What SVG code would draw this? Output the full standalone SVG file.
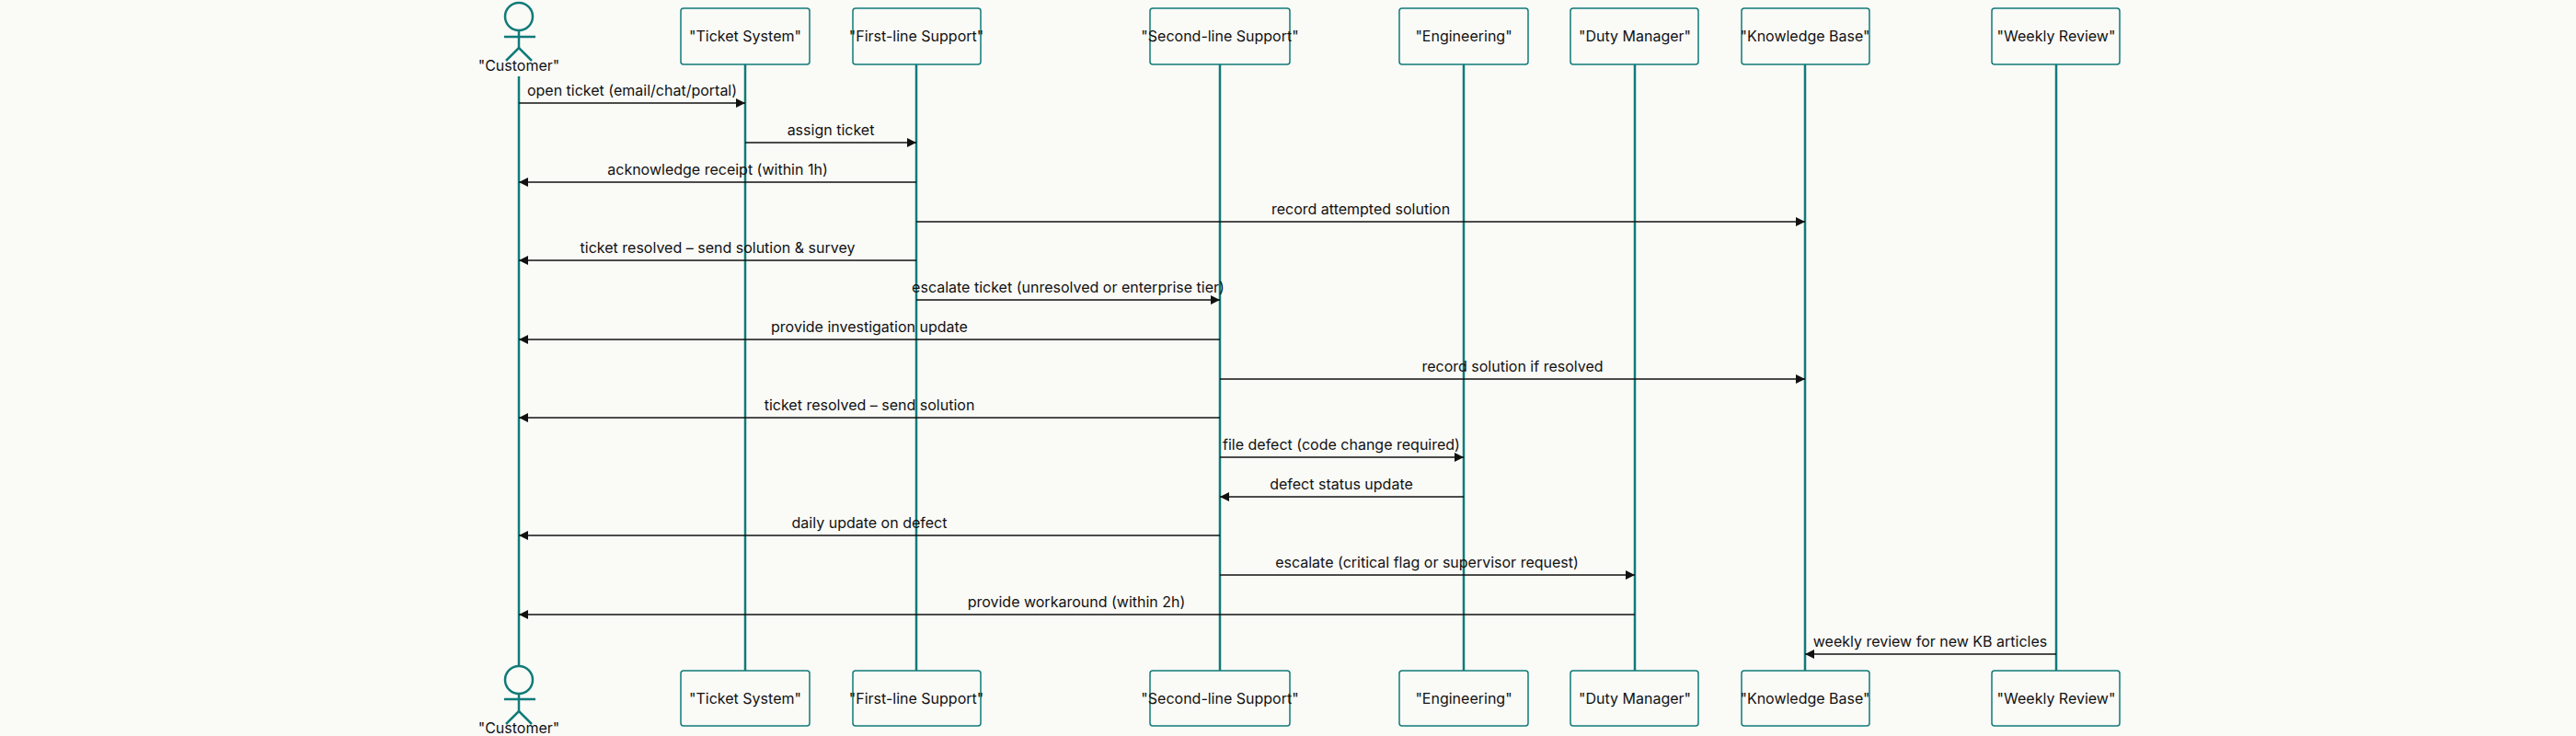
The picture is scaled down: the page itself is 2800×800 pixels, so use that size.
<svg xmlns="http://www.w3.org/2000/svg" width="2800" height="800" viewBox="0 0 2800 800">
<style>
.bg{fill:#fafaf7}
.box{fill:#fafaf7;stroke:#0f7b78;stroke-width:1.5}
.life{stroke:#0f7b78;stroke-width:2.5}
.act{fill:none;stroke:#0f7b78;stroke-width:2.5}
.t{font-family:Inter,"Liberation Sans",sans-serif;font-size:16px;fill:#111;text-anchor:middle}
.m{stroke:#111;stroke-width:1.6;fill:none;marker-end:url(#ah)}
</style>
<defs>
<marker id="ah" viewBox="0 0 10 10" refX="10" refY="5" markerWidth="10" markerHeight="10" markerUnits="userSpaceOnUse" orient="auto"><path d="M0,0L10,5L0,10z" fill="#111"/></marker>
</defs>
<rect class="bg" width="2800" height="800"/>
<g id="lifelines">
<line class="life" x1="564" y1="83" x2="564" y2="724"/>
<line class="life" x1="810" y1="70" x2="810" y2="729"/>
<line class="life" x1="996" y1="70" x2="996" y2="729"/>
<line class="life" x1="1326" y1="70" x2="1326" y2="729"/>
<line class="life" x1="1591" y1="70" x2="1591" y2="729"/>
<line class="life" x1="1777" y1="70" x2="1777" y2="729"/>
<line class="life" x1="1962" y1="70" x2="1962" y2="729"/>
<line class="life" x1="2235" y1="70" x2="2235" y2="729"/>
</g>
<g id="customer">
<circle class="act" cx="564" cy="18" r="15"/><line class="act" x1="564" y1="33" x2="564" y2="52"/><line class="act" x1="548" y1="40" x2="582" y2="40"/><path class="act" d="M550,66L564,52L578,66"/>
<text class="t" x="564" y="77">"Customer"</text>
<circle class="act" cx="564" cy="739" r="15"/><line class="act" x1="564" y1="754" x2="564" y2="773"/><line class="act" x1="548" y1="760" x2="582" y2="760"/><path class="act" d="M550,787L564,773L578,787"/>
<text class="t" x="564" y="797">"Customer"</text>
</g>
<g id="ticket"><rect class="box" x="740" y="9" width="140" height="61" rx="3"/><text class="t" x="810" y="45">"Ticket System"</text><rect class="box" x="740" y="729" width="140" height="60" rx="3"/><text class="t" x="810" y="765">"Ticket System"</text></g>
<g id="first"><rect class="box" x="927" y="9" width="139" height="61" rx="3"/><text class="t" x="996" y="45">"First-line Support"</text><rect class="box" x="927" y="729" width="139" height="60" rx="3"/><text class="t" x="996" y="765">"First-line Support"</text></g>
<g id="second"><rect class="box" x="1250" y="9" width="152" height="61" rx="3"/><text class="t" x="1326" y="45">"Second-line Support"</text><rect class="box" x="1250" y="729" width="152" height="60" rx="3"/><text class="t" x="1326" y="765">"Second-line Support"</text></g>
<g id="engineering"><rect class="box" x="1521" y="9" width="140" height="61" rx="3"/><text class="t" x="1591" y="45">"Engineering"</text><rect class="box" x="1521" y="729" width="140" height="60" rx="3"/><text class="t" x="1591" y="765">"Engineering"</text></g>
<g id="duty"><rect class="box" x="1707" y="9" width="139" height="61" rx="3"/><text class="t" x="1777" y="45">"Duty Manager"</text><rect class="box" x="1707" y="729" width="139" height="60" rx="3"/><text class="t" x="1777" y="765">"Duty Manager"</text></g>
<g id="kb"><rect class="box" x="1893" y="9" width="139" height="61" rx="3"/><text class="t" x="1962" y="45">"Knowledge Base"</text><rect class="box" x="1893" y="729" width="139" height="60" rx="3"/><text class="t" x="1962" y="765">"Knowledge Base"</text></g>
<g id="weekly"><rect class="box" x="2165" y="9" width="139" height="61" rx="3"/><text class="t" x="2235" y="45">"Weekly Review"</text><rect class="box" x="2165" y="729" width="139" height="60" rx="3"/><text class="t" x="2235" y="765">"Weekly Review"</text></g>
<g id="connectors">
<line class="m" x1="564" y1="112" x2="810" y2="112"/><text class="t" x="687" y="104">open ticket (email/chat/portal)</text>
<line class="m" x1="810" y1="155" x2="996" y2="155"/><text class="t" x="903" y="147">assign ticket</text>
<line class="m" x1="996" y1="198" x2="564" y2="198"/><text class="t" x="780" y="190">acknowledge receipt (within 1h)</text>
<line class="m" x1="996" y1="241" x2="1962" y2="241"/><text class="t" x="1479" y="233">record attempted solution</text>
<line class="m" x1="996" y1="283" x2="564" y2="283"/><text class="t" x="780" y="275">ticket resolved – send solution &amp; survey</text>
<line class="m" x1="996" y1="326" x2="1326" y2="326"/><text class="t" x="1161" y="318">escalate ticket (unresolved or enterprise tier)</text>
<line class="m" x1="1326" y1="369" x2="564" y2="369"/><text class="t" x="945" y="361">provide investigation update</text>
<line class="m" x1="1326" y1="412" x2="1962" y2="412"/><text class="t" x="1644" y="404">record solution if resolved</text>
<line class="m" x1="1326" y1="454" x2="564" y2="454"/><text class="t" x="945" y="446">ticket resolved – send solution</text>
<line class="m" x1="1326" y1="497" x2="1591" y2="497"/><text class="t" x="1458" y="489">file defect (code change required)</text>
<line class="m" x1="1591" y1="540" x2="1326" y2="540"/><text class="t" x="1458" y="532">defect status update</text>
<line class="m" x1="1326" y1="582" x2="564" y2="582"/><text class="t" x="945" y="574">daily update on defect</text>
<line class="m" x1="1326" y1="625" x2="1777" y2="625"/><text class="t" x="1551" y="617">escalate (critical flag or supervisor request)</text>
<line class="m" x1="1777" y1="668" x2="564" y2="668"/><text class="t" x="1170" y="660">provide workaround (within 2h)</text>
<line class="m" x1="2235" y1="711" x2="1962" y2="711"/><text class="t" x="2098" y="703">weekly review for new KB articles</text>
</g>
</svg>
